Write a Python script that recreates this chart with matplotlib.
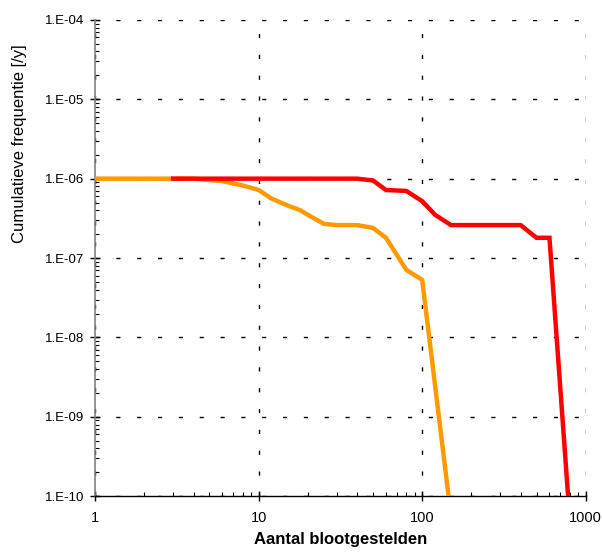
import matplotlib
matplotlib.use("Agg")
import matplotlib.pyplot as plt
from matplotlib.ticker import FixedLocator, LogLocator, NullFormatter

plt.rcParams['font.family'] = ['Liberation Sans', 'DejaVu Sans']

# orange curve
orange_x = [1, 2, 3, 4, 6, 8, 10, 12, 15, 18, 20, 25, 30, 40, 50, 60, 80, 100, 145]
orange_y = [1e-6, 1e-6, 1e-6, 1e-6, 9.3e-7, 8.2e-7, 7.2e-7, 5.6e-7, 4.6e-7, 4.0e-7,
            3.5e-7, 2.7e-7, 2.6e-7, 2.6e-7, 2.4e-7, 1.8e-7, 7.1e-8, 5.3e-8, 1e-10]

# red curve
red_x = [3, 5, 10, 20, 40, 50, 60, 80, 100, 120, 150, 200, 300, 400, 500, 600, 780]
red_y = [1e-6, 1e-6, 1e-6, 1e-6, 1e-6, 9.5e-7, 7.2e-7, 7.0e-7, 5.2e-7, 3.5e-7,
         2.6e-7, 2.6e-7, 2.6e-7, 2.6e-7, 1.8e-7, 1.8e-7, 1e-10]

x_ticks = [1, 10, 100, 1000]
x_labels = ['1', '10', '100', '1000']
y_ticks = [1e-10, 1e-9, 1e-8, 1e-7, 1e-6, 1e-5, 1e-4]
y_labels = ['1.E-10', '1.E-09', '1.E-08', '1.E-07', '1.E-06', '1.E-05', '1.E-04']

fig = plt.figure(figsize=(6.02, 5.52), dpi=100)
ax = fig.add_axes([0.158, 0.101, 0.815, 0.863])

ax.plot(orange_x, orange_y, color='#FF9900', linewidth=3.2, solid_joinstyle='miter', zorder=3)
ax.plot(red_x, red_y, color='#FF0000', linewidth=3.2, solid_joinstyle='miter', zorder=4)

ax.set_xscale('log')
ax.set_yscale('log')
ax.set_xlim(1, 1000)
ax.set_ylim(1e-10, 1e-4)

ax.xaxis.set_major_locator(FixedLocator(x_ticks))
ax.set_xticklabels(x_labels)
ax.yaxis.set_major_locator(FixedLocator(y_ticks))
ax.set_yticklabels(y_labels)
ax.xaxis.set_minor_locator(LogLocator(base=10, subs=range(2, 10), numticks=20))
ax.yaxis.set_minor_locator(LogLocator(base=10, subs=range(2, 10), numticks=20))
ax.xaxis.set_minor_formatter(NullFormatter())
ax.yaxis.set_minor_formatter(NullFormatter())

ax.tick_params(which='major', direction='inout', length=6.5, width=1, colors='black')
ax.tick_params(which='minor', direction='in', length=3, width=0.8)
ax.tick_params(axis='x', which='major', pad=7.5, labelsize=10.5)
ax.tick_params(axis='y', which='major', pad=4.5, labelsize=9.5)

ax.grid(True, which='major', color='black', linestyle=(0, (3, 12)), linewidth=1)
ax.set_axisbelow(True)

ax.spines['top'].set_visible(False)
ax.spines['right'].set_visible(False)
ax.spines['left'].set_color('#808080')
ax.spines['left'].set_linewidth(1.2)
ax.spines['bottom'].set_color('black')
ax.spines['bottom'].set_linewidth(1)

ax.set_xlabel('Aantal blootgestelden', fontsize=12, fontweight='bold')
ax.set_ylabel('Cumulatieve frequentie [/y]', fontsize=12)
ax.xaxis.set_label_coords(0.5, -0.075)
ax.yaxis.set_label_coords(-0.139, 0.74)

fig.savefig('out.png', dpi=100)
